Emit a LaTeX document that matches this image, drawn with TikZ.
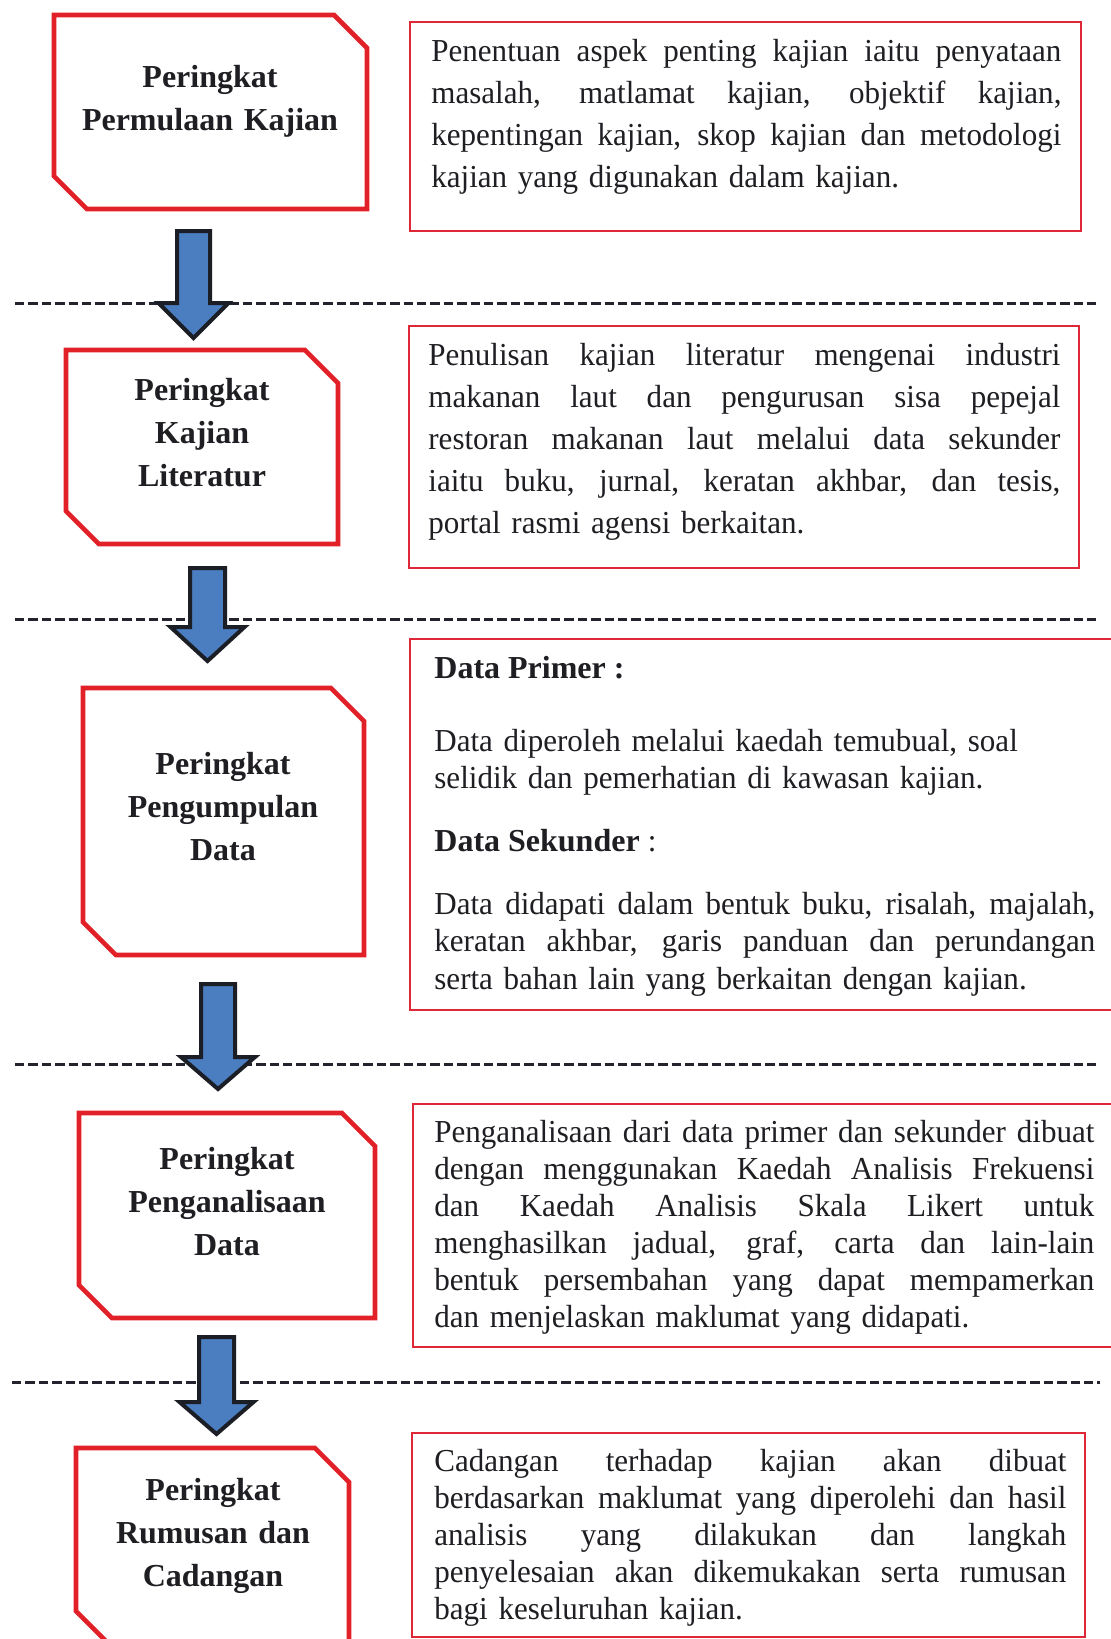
\documentclass[tikz,border=0pt]{standalone}
\usepackage{fontspec}
\setmainfont{Liberation Serif}
\newfontfamily\bodyfont{Liberation Serif}[FakeStretch=0.97]
\definecolor{boxred}{RGB}{226,32,40}
\definecolor{thinred}{RGB}{222,40,56}
\definecolor{arrowblue}{RGB}{74,126,192}
\definecolor{arrowline}{RGB}{28,30,38}
\definecolor{dashcol}{RGB}{35,35,45}
\definecolor{textcol}{RGB}{30,30,35}
% one justified line of fixed width
\newcommand\jl[1]{\leavevmode\hbox to \hsize{\spaceskip=0.25em plus 1em minus 0.08em\relax #1}\\}
% cut-corner box: x1,y1,x2,y2,cut
\newcommand\cutbox[5]{\draw[lbox] (#1,#2) -- (#3-#5,#2) -- (#3,#2+#5) -- (#3,#4) -- (#1+#5,#4) -- (#1,#4-#5) -- cycle;}
% block arrow: cx, top, base, tip, shaft half, head half
\newcommand\blkarrow[6]{\draw[barrow] (#1-#5,#2) -- (#1+#5,#2) -- (#1+#5,#3) -- (#1+#6,#3) -- (#1,#4) -- (#1-#6,#3) -- (#1-#5,#3) -- cycle;}
\tikzset{
  lbox/.style={draw=boxred, line width=2.3pt, line join=miter},
  rbox/.style={draw=thinred, line width=1pt},
  sepline/.style={draw=dashcol, line width=1.5pt, dash pattern=on 4.7pt off 2pt},
  barrow/.style={draw=arrowline, fill=arrowblue, line width=2pt, line join=miter},
  ltext/.style={anchor=base, inner sep=0pt, text width=150pt, align=center,
    font=\fontsize{16pt}{21.5pt}\selectfont\bfseries, text=textcol},
  rtext/.style={anchor=base west, inner sep=0pt, align=left, text=textcol}
}
\begin{document}
\begin{tikzpicture}[x=0.5pt,y=-0.5pt]
\useasboundingbox[fill=white] (0,0) rectangle (1110,1639);

% separators
\coordinate (s1a) at (15,303);  \coordinate (s1b) at (1100,303);
\coordinate (s2a) at (15,619);  \coordinate (s2b) at (1100,619);
\coordinate (s3a) at (15,1064); \coordinate (s3b) at (1100,1064);
\coordinate (s4a) at (12,1382); \coordinate (s4b) at (1100,1382);
\draw[sepline] (s1a) -- (s1b);
\draw[sepline] (s2a) -- (s2b);
\draw[sepline] (s3a) -- (s3b);
\draw[sepline] (s4a) -- (s4b);

% left stage boxes
\cutbox{54}{15}{367}{209}{33}
\cutbox{66}{350}{338}{544}{33}
\cutbox{83}{688}{364}{955}{33}
\cutbox{79}{1113}{375}{1318}{33}
\cutbox{76}{1448}{349}{1645}{34}

% right description boxes
\draw[rbox] (410,22) rectangle (1081,231);
\draw[rbox] (409,326) rectangle (1079,568);
\draw[rbox] (410,639) rectangle (1114,1010);
\draw[rbox] (413,1104) rectangle (1114,1347);
\draw[rbox] (412,1433) rectangle (1085,1637);

% arrows
\blkarrow{193.5}{231}{303}{338}{16.5}{35}
\blkarrow{207.5}{568}{627}{661}{17.5}{37}
\blkarrow{218}{984}{1057}{1089}{17}{37}
\blkarrow{216.5}{1337}{1402}{1434}{17.5}{37}

% left texts
\node[ltext] (l1) at (210,87) {Peringkat\\Permulaan Kajian};
\node[ltext] (l2) at (202,400) {Peringkat\\Kajian\\Literatur};
\node[ltext] (l3) at (223,774) {Peringkat\\Pengumpulan\\Data};
\node[ltext] (l4) at (227,1169) {Peringkat\\Penganalisaan\\Data};
\node[ltext] (l5) at (213,1500) {Peringkat\\Rumusan dan\\Cadangan};

% right texts
\node[rtext, text width=315pt, font=\bodyfont\fontsize{16pt}{21pt}\selectfont] (t1) at (431,61)
  {\jl{Penentuan aspek penting kajian iaitu penyataan}\jl{masalah, matlamat kajian, objektif kajian,}\jl{kepentingan kajian, skop kajian dan metodologi}kajian yang digunakan dalam kajian.};
\node[rtext, text width=316pt, font=\bodyfont\fontsize{16pt}{21pt}\selectfont] (t2) at (428,365)
  {\jl{Penulisan kajian literatur mengenai industri}\jl{makanan laut dan pengurusan sisa pepejal}\jl{restoran makanan laut melalui data sekunder}\jl{iaitu buku, jurnal, keratan akhbar, dan tesis,}portal rasmi agensi berkaitan.};
\node[rtext, font=\fontsize{16pt}{18.5pt}\selectfont\bfseries] (t3a) at (434,678) {Data Primer :};
\node[rtext, text width=330.5pt, font=\bodyfont\fontsize{16pt}{18.5pt}\selectfont] (t3b) at (434,751)
  {Data diperoleh melalui kaedah temubual, soal\\selidik dan pemerhatian di kawasan kajian.};
\node[rtext, font=\fontsize{16pt}{18.5pt}\selectfont] (t3c) at (434,851) {\textbf{Data Sekunder} {\bodyfont :}};
\node[rtext, text width=330.5pt, font=\bodyfont\fontsize{16pt}{18.75pt}\selectfont] (t3d) at (434,914)
  {\jl{Data didapati dalam bentuk buku, risalah, majalah,}\jl{keratan akhbar, garis panduan dan perundangan}serta bahan lain yang berkaitan dengan kajian.};
\node[rtext, text width=330pt, font=\bodyfont\fontsize{16pt}{18.5pt}\selectfont] (t4) at (434,1142)
  {\jl{Penganalisaan dari data primer dan sekunder dibuat}\jl{dengan menggunakan Kaedah Analisis Frekuensi}\jl{dan Kaedah Analisis Skala Likert untuk}\jl{menghasilkan jadual, graf, carta dan lain-lain}\jl{bentuk persembahan yang dapat mempamerkan}dan menjelaskan maklumat yang didapati.};
\node[rtext, text width=316pt, font=\bodyfont\fontsize{16pt}{18.5pt}\selectfont] (t5) at (434,1471)
  {\jl{Cadangan terhadap kajian akan dibuat}\jl{berdasarkan maklumat yang diperolehi dan hasil}\jl{analisis yang dilakukan dan langkah}\jl{penyelesaian akan dikemukakan serta rumusan}bagi keseluruhan kajian.};
\end{tikzpicture}
\end{document}
